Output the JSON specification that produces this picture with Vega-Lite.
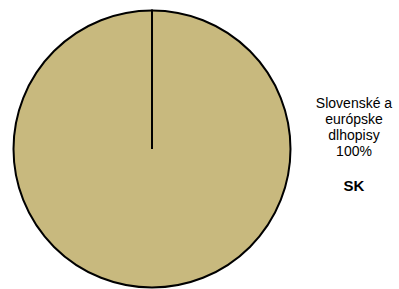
{
  "$schema": "https://vega.github.io/schema/vega-lite/v6.json",
  "padding": 0,
  "spacing": 0,
  "config": {"view": {"stroke": null}, "font": "Liberation Sans"},
  "data": {"values": [{"category": "Slovenské a európske dlhopisy", "share": 100, "fund": "SK"}]},
  "hconcat": [
    {
      "width": 304,
      "height": 298,
      "layer": [
        {
          "mark": {"type": "arc", "outerRadius": 138.5, "stroke": "#000000", "strokeWidth": 2},
          "encoding": {
            "theta": {"field": "share", "type": "quantitative"},
            "color": {"value": "#C8B97E"}
          }
        },
        {
          "mark": {"type": "arc", "outerRadius": 138.5, "theta": 0, "theta2": 0.0001, "stroke": "#000000", "strokeWidth": 2, "fillOpacity": 0},
          "encoding": {}
        }
      ]
    },
    {
      "width": 100,
      "height": 289,
      "layer": [
        {
          "mark": {"type": "text", "fontSize": 14, "lineHeight": 16, "baseline": "middle"},
          "encoding": {
            "text": {"value": ["Slovenské a", "európske", "dlhopisy", "100%"]},
            "y": {"datum": "category", "type": "ordinal", "scale": {"type": "point", "domain": ["category", "fund"], "range": [104, 186], "padding": 0}, "axis": null}
          }
        },
        {
          "mark": {"type": "text", "fontSize": 15, "fontWeight": "bold", "baseline": "middle"},
          "encoding": {
            "text": {"field": "fund"},
            "y": {"datum": "fund", "type": "ordinal", "scale": {"type": "point", "domain": ["category", "fund"], "range": [104, 186], "padding": 0}, "axis": null}
          }
        }
      ]
    }
  ]
}
